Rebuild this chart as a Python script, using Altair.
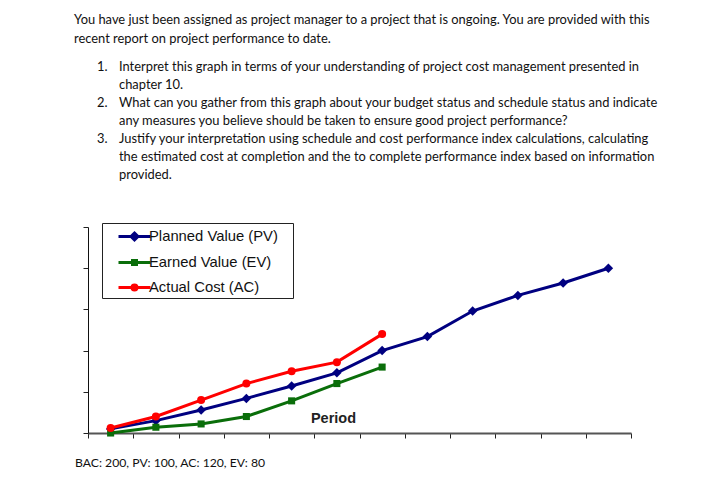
import altair as alt
import pandas as pd

# ---------------- data ----------------
periods = list(range(1, 13))
pv_values = [5, 15, 28, 42, 57, 73, 100, 117, 148, 167, 182, 200]
ev_values = [0, 7, 11, 20, 39, 60, 80]
ac_values = [6, 20, 40, 60, 75, 86, 120]

series_names = ["Planned Value (PV)", "Earned Value (EV)", "Actual Cost (AC)"]
series_colors = ["#000080", "#0a6e0a", "#ff0000"]
series_shapes = ["diamond", "square", "circle"]
series_sizes = [90, 50, 64]
y_ticks = [0, 50, 100, 150, 200, 250]

intro_lines = [
    "You have just been assigned as project manager to a project that is ongoing. You are provided with this",
    "recent report on project performance to date.",
]
item_numbers = ["1.", "2.", "3."]
item_lines = [
    ["Interpret this graph in terms of your understanding of project cost management presented in",
     "chapter 10."],
    ["What can you gather from this graph about your budget status and schedule status and indicate",
     "any measures you believe should be taken to ensure good project performance?"],
    ["Justify your interpretation using schedule and cost performance index calculations, calculating",
     "the estimated cost at completion and the to complete performance index based on information",
     "provided."],
]
footer_text = "BAC: 200, PV: 100, AC: 120, EV: 80"

rows = []
for name, vals in zip(series_names, [pv_values, ev_values, ac_values]):
    for p, v in zip(periods, vals):
        rows.append({"period": p, "value": v, "series": name})
df = pd.DataFrame(rows)

# ---------------- layout ----------------
W, H = 543, 206
PAD_L, PAD_T = 88, 227
TEXT_FONT = "Lato"
TEXT_SIZE = 12.9

x_enc = alt.X(
    "period:Q",
    scale=alt.Scale(domain=[0.5, 12.5], nice=False, zero=False),
    axis=alt.Axis(
        values=[i + 0.5 for i in range(13)], labels=False, grid=False,
        title="Period", titleFont="Liberation Sans", titleFontSize=14.5,
        titleFontWeight="bold", titleColor="#222", titleX=245, titleY=-15,
        titleAlign="center", titleBaseline="middle", titleAngle=0,
        tickSize=5, tickColor="#222", tickWidth=1,
        domainColor="#555", domainWidth=2,
    ),
)
y_enc = alt.Y(
    "value:Q",
    scale=alt.Scale(domain=[0, 250], nice=False),
    axis=alt.Axis(
        values=y_ticks, labels=False, grid=False, title=None,
        tickSize=5, tickColor="#222", tickWidth=1,
        domainColor="#111", domainWidth=1,
    ),
)

color_scale = alt.Scale(domain=series_names, range=series_colors)

base = alt.Chart(df).encode(x=x_enc, y=y_enc)

line_layers = []
point_layers = []
for name, col, shp, sz in zip(series_names, series_colors, series_shapes, series_sizes):
    sub = base.transform_filter(alt.datum.series == name)
    line_layers.append(sub.mark_line(strokeWidth=3, color=col))
    point_layers.append(
        sub.mark_point(filled=True, opacity=1, shape=shp, size=sz, color=col)
    )

# legend: line + marker symbols (stroked only; nested outlines fill the marker)
legend_paths = [
    "M-1.6,0L1.6,0"
    "M0,-0.35L0.35,0L0,0.35L-0.35,0Z"
    "M0,-0.2L0.2,0L0,0.2L-0.2,0Z"
    "M0,-0.05L0.05,0L0,0.05L-0.05,0Z",
    "M-1.6,0L1.6,0"
    "M-0.2,-0.2L0.2,-0.2L0.2,0.2L-0.2,0.2Z"
    "M-0.05,-0.05L0.05,-0.05L0.05,0.05L-0.05,0.05Z",
    "M-1.6,0L1.6,0"
    "M0.25,0A0.25,0.25,0,1,1,-0.25,0A0.25,0.25,0,1,1,0.25,0Z"
    "M0.1,0A0.1,0.1,0,1,1,-0.1,0A0.1,0.1,0,1,1,0.1,0Z",
]
leg = alt.Legend(
    title=None, orient="none", legendX=14, legendY=-4,
    strokeColor="#222", fillColor="white", padding=2,
    symbolSize=400, symbolStrokeWidth=3, symbolOffset=19, labelOffset=3,
    rowPadding=5, labelFont="Liberation Sans", labelFontSize=14.8, labelColor="#111",
    labelExpr="datum.label + '\u00a0\u00a0\u00a0\u200b'",
)
legend_layer = alt.Chart(df).transform_filter("false").mark_point(
    filled=False, strokeWidth=3, opacity=1
).encode(
    x="period:Q", y="value:Q",
    color=alt.Color("series:N", scale=color_scale, legend=leg),
    shape=alt.Shape("series:N", scale=alt.Scale(domain=series_names, range=legend_paths), legend=leg),
)

# text blocks
text_layers = []
def add_text(txt, px, py, font=TEXT_FONT, size=TEXT_SIZE):
    text_layers.append(
        alt.Chart(pd.DataFrame({"t": [txt]})).mark_text(
            align="left", baseline="middle", font=font, fontSize=size, color="#111"
        ).encode(x=alt.value(px - PAD_L), y=alt.value(py - PAD_T), text="t:N")
    )

intro_y = [20, 39]
for t, yy in zip(intro_lines, intro_y):
    add_text(t, 74, yy)
item_start_y = [67, 103, 139]
for num, lines_, y0 in zip(item_numbers, item_lines, item_start_y):
    add_text(num, 97, y0)
    for k, t in enumerate(lines_):
        add_text(t, 119, y0 + 18 * k)
add_text(footer_text, 75, 463, size=12.2)

chart = alt.layer(*line_layers, *point_layers, legend_layer, *text_layers).properties(
    width=W, height=H,
    autosize=alt.AutoSizeParams(type="none"),
    padding={"left": PAD_L, "top": PAD_T, "right": 707 - PAD_L - W, "bottom": 487 - PAD_T - H},
    background="white",
).configure_view(stroke=None)

chart.save("out.html", embed_options={"renderer": "svg", "actions": False})
